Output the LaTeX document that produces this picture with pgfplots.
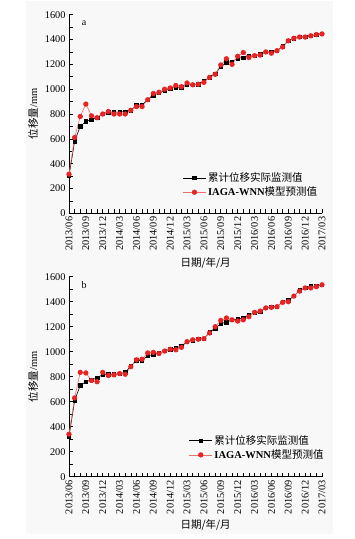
\documentclass[border=0pt]{standalone}
\usepackage{pgfplots}
\pgfplotsset{compat=1.18}
\usepackage{pgfplotstable}
\usepackage{fontspec}
\setmainfont{Liberation Serif}
\newfontfamily\cjk{Noto Sans CJK SC}
\definecolor{redline}{RGB}{238,110,105}
\definecolor{redmark}{RGB}{232,35,35}
\definecolor{bgc}{RGB}{248,248,248}

\pgfplotstableread{
x y
0 300
1 580
2 700
3 740
4 755
5 770
6 800
7 815
8 815
9 815
10 820
11 830
12 870
13 875
14 915
15 950
16 970
17 985
18 1005
19 1015
20 1015
21 1035
22 1035
23 1040
24 1065
25 1095
26 1125
27 1180
28 1215
29 1220
30 1250
31 1255
32 1265
33 1270
34 1280
35 1300
36 1300
37 1310
38 1345
39 1390
40 1410
41 1420
42 1420
43 1430
44 1440
45 1445
}\ablack
\pgfplotstableread{
x y
0 315
1 610
2 780
3 880
4 785
5 770
6 800
7 820
8 800
9 800
10 800
11 830
12 860
13 860
14 915
15 965
16 975
17 1000
18 1010
19 1030
20 1020
21 1050
22 1035
23 1040
24 1055
25 1095
26 1120
27 1195
28 1245
29 1200
30 1265
31 1295
32 1255
33 1270
34 1275
35 1300
36 1290
37 1310
38 1340
39 1390
40 1410
41 1420
42 1420
43 1430
44 1440
45 1445
}\ared
\pgfplotstableread{
x y
0 320
1 610
2 730
3 760
4 775
5 790
6 820
7 820
8 820
9 825
10 835
11 885
12 930
13 930
14 970
15 975
16 990
17 1005
18 1020
19 1030
20 1045
21 1080
22 1090
23 1105
24 1105
25 1155
26 1185
27 1225
28 1235
29 1255
30 1260
31 1270
32 1295
33 1310
34 1320
35 1350
36 1360
37 1360
38 1400
39 1410
40 1445
41 1490
42 1510
43 1525
44 1525
45 1535
}\bblack
\pgfplotstableread{
x y
0 340
1 630
2 835
3 830
4 770
5 760
6 835
7 810
8 815
9 825
10 820
11 880
12 935
13 940
14 990
15 995
16 985
17 1005
18 1020
19 1015
20 1035
21 1080
22 1095
23 1100
24 1105
25 1150
26 1200
27 1250
28 1270
29 1255
30 1245
31 1255
32 1280
33 1315
34 1325
35 1350
36 1355
37 1360
38 1395
39 1400
40 1445
41 1485
42 1510
43 1510
44 1520
45 1535
}\bred

\pgfplotsset{
  myaxis/.style={
    scale only axis,
    width=253pt,
    anchor=south west,
    axis lines=left,
    axis line style={-, line width=0.7pt},
    tick align=inside,
    major tick length=4pt,
    minor tick length=4pt,
    tick style={black, line width=0.6pt},
    xmin=0, xmax=45,
    ymin=0, ymax=1600,
    xtick={0,3,...,45},
    minor x tick num=2,
    ytick={0,200,...,1600},
    minor y tick num=1,
    xticklabels={2013/06,2013/09,2013/12,2014/03,2014/06,2014/09,2014/12,2015/03,2015/06,2015/09,2015/12,2016/03,2016/06,2016/09,2016/12,2017/03},
    x tick label style={rotate=90, anchor=east},
    ticklabel style={font=\fontsize{10.3}{12}\selectfont},
    /pgf/number format/assume math mode=true,
    /pgf/number format/1000 sep={},
    clip=false,
    xlabel={\cjk 日期/年/月},
    ylabel={{\cjk 位移量}/mm},
    label style={font=\fontsize{10.5}{12}\selectfont},
    ylabel style={at={(axis description cs:-0.142,0.5)}, anchor=center},
    legend style={draw=none, fill=none, font=\fontsize{10.5}{13.4}\selectfont, anchor=west, row sep=0pt, inner sep=1pt},
    legend cell align=left,
    legend image code/.code={\draw[mark repeat=2,mark phase=2,##1] plot coordinates {(0cm,0cm) (0.4cm,0cm) (0.8cm,0cm)};},
  },
  blk/.style={black, line width=0.6pt, mark=square*, mark size=1.7pt, mark options={solid, fill=black}},
  rd/.style={redline, line width=0.6pt, mark=*, mark size=2.3pt, mark options={solid, draw=redmark, fill=redmark}},
}

\begin{document}
\begin{tikzpicture}
\useasboundingbox (0,0) rectangle (354pt,-539pt);
\fill[bgc] (26pt,-1pt) rectangle (333pt,-534pt);

\begin{axis}[myaxis, at={(69pt,-213.3pt)}, height=198.6pt,
  xlabel style={at={(axis description cs:0.54,0)}, anchor=center, yshift=-50pt},
  legend style={at={(0.445,0.1425)}}]
\addplot[blk] table[x=x,y=y] {\ablack};
\addlegendentry{\cjk 累计位移实际监测值}
\addplot[rd] table[x=x,y=y] {\ared};
\addlegendentry{\textbf{IAGA-WNN}{\cjk 模型预测值}}
\node[font=\fontsize{10}{12}\selectfont, anchor=center] at (rel axis cs:0.06,0.958) {a};
\end{axis}

\begin{axis}[myaxis, at={(69pt,-476.7pt)}, height=200pt,
  xlabel style={at={(axis description cs:0.54,0)}, anchor=center, yshift=-48.5pt},
  legend style={at={(0.47,0.145)}}]
\addplot[blk] table[x=x,y=y] {\bblack};
\addlegendentry{\cjk 累计位移实际监测值}
\addplot[rd] table[x=x,y=y] {\bred};
\addlegendentry{\textbf{IAGA-WNN}{\cjk 模型预测值}}
\node[font=\fontsize{10}{12}\selectfont, anchor=center] at (rel axis cs:0.06,0.958) {b};
\end{axis}
\end{tikzpicture}
\end{document}
